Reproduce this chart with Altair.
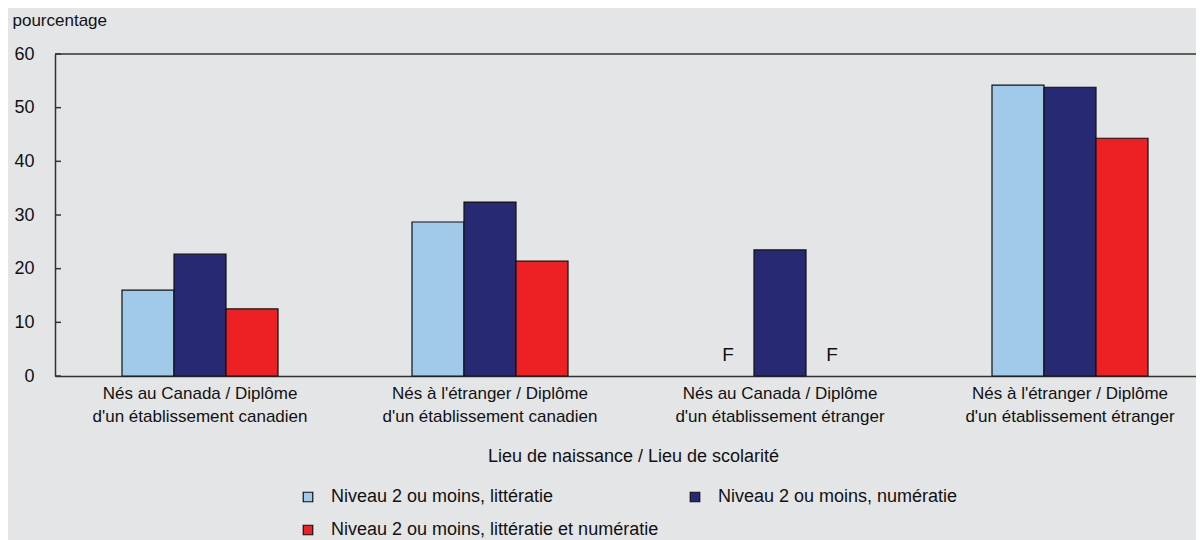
import altair as alt
import pandas as pd

categories = [
    "Nés au Canada / Diplôme\nd'un établissement canadien",
    "Nés à l'étranger / Diplôme\nd'un établissement canadien",
    "Nés au Canada / Diplôme\nd'un établissement étranger",
    "Nés à l'étranger / Diplôme\nd'un établissement étranger",
]
series = [
    "Niveau 2 ou moins, littératie",
    "Niveau 2 ou moins, numératie",
    "Niveau 2 ou moins, littératie et numératie",
]
litteratie = [16.0, 28.7, None, 54.2]
numeratie = [22.7, 32.4, 23.5, 53.8]
les_deux = [12.5, 21.4, None, 44.3]
y_ticks = [0, 10, 20, 30, 40, 50, 60]
colors = ["#a0c9ea", "#272a72", "#ed2024"]

rows = []
for s, vals in zip(series, [litteratie, numeratie, les_deux]):
    for c, v in zip(categories, vals):
        rows.append({"cat": c, "series": s, "value": v})
df = pd.DataFrame(rows)
df_bars = df.dropna()
df_f = df[df["value"].isna()].copy()
df_f["value"] = 0.0
df_f["lab"] = "F"
df_ticks = pd.DataFrame({"value": y_ticks})
df_top = pd.DataFrame({"value": [max(y_ticks)]})

FONT = "Liberation Sans"
RANGE_W = 1160

xscale = alt.Scale(domain=categories, range=[0, RANGE_W], paddingInner=0.462, paddingOuter=0.231)
xoff = alt.XOffset("series:N", sort=series, scale=alt.Scale(domain=series, paddingInner=0, paddingOuter=0))
yscale = alt.Scale(domain=[0, 60], nice=False)
yaxis = alt.Axis(
    values=y_ticks, ticks=False, grid=False, labelPadding=21, labelFontSize=18,
    labelFont=FONT, labelColor="#111", domainColor="#333", domainWidth=1.5,
    title="pourcentage", titleAngle=0, titleAlign="left", titleBaseline="alphabetic",
    titleX=-43, titleY=-29, titleFont=FONT, titleFontSize=17, titleFontWeight="normal",
    titleColor="#111",
)
xaxis = alt.Axis(
    ticks=False, labelAngle=0, labelFont=FONT, labelFontSize=17, labelColor="#111",
    labelExpr="split(datum.label, '\\n')", labelLineHeight=23, labelPadding=9,
    labelBaseline="top", labelLimit=400,
    domainColor="#333", domainWidth=1.5,
    title="Lieu de naissance / Lieu de scolarité", titleFont=FONT, titleFontSize=18,
    titleFontWeight="normal", titleColor="#111", titleX=578, titleY=80,
    titleBaseline="middle", titleAlign="center",
)

bars = alt.Chart(df_bars).mark_bar(stroke="#111", strokeWidth=1.2).encode(
    x=alt.X("cat:N", sort=categories, scale=xscale, axis=xaxis),
    xOffset=xoff,
    y=alt.Y("value:Q", scale=yscale, axis=yaxis),
    color=alt.Color(
        "series:N", sort=series,
        scale=alt.Scale(domain=series, range=colors),
        legend=alt.Legend(
            title=None, orient="none", legendX=244, legendY=434, columns=2,
            direction="horizontal", gridAlign="each", values=series,
            columnPadding=27, rowPadding=15, symbolType="square", symbolSize=90,
            symbolStrokeColor="#111", symbolStrokeWidth=1.2, symbolOffset=0,
            labelOffset=14, labelFont=FONT, labelFontSize=18, labelColor="#111",
            labelLimit=500,
        ),
    ),
)

ftext = alt.Chart(df_f).mark_text(font=FONT, fontSize=19, color="#111", baseline="middle", dy=-21).encode(
    x=alt.X("cat:N", sort=categories, scale=xscale, axis=xaxis),
    xOffset=xoff,
    y=alt.Y("value:Q", scale=yscale, axis=yaxis),
    text="lab:N",
)

ticks = alt.Chart(df_ticks).mark_rule(color="#333", strokeWidth=1.5).encode(
    x=alt.value(0), x2=alt.value(6),
    y=alt.Y("value:Q", scale=yscale, axis=yaxis),
)

top = alt.Chart(df_top).mark_rule(color="#333", strokeWidth=1.5).encode(
    x=alt.value(0), x2=alt.value(RANGE_W),
    y=alt.Y("value:Q", scale=yscale, axis=yaxis),
)

chart = alt.layer(bars, ftext, ticks, top).properties(
    width=1141, height=322,
    background="#e4e5e7",
    autosize=alt.AutoSizeParams(type="none"),
    padding={"left": 47, "top": 46, "right": 0, "bottom": 164},
).configure_view(stroke=None)

chart.save("out.html", embed_options={"renderer": "svg", "actions": False})
